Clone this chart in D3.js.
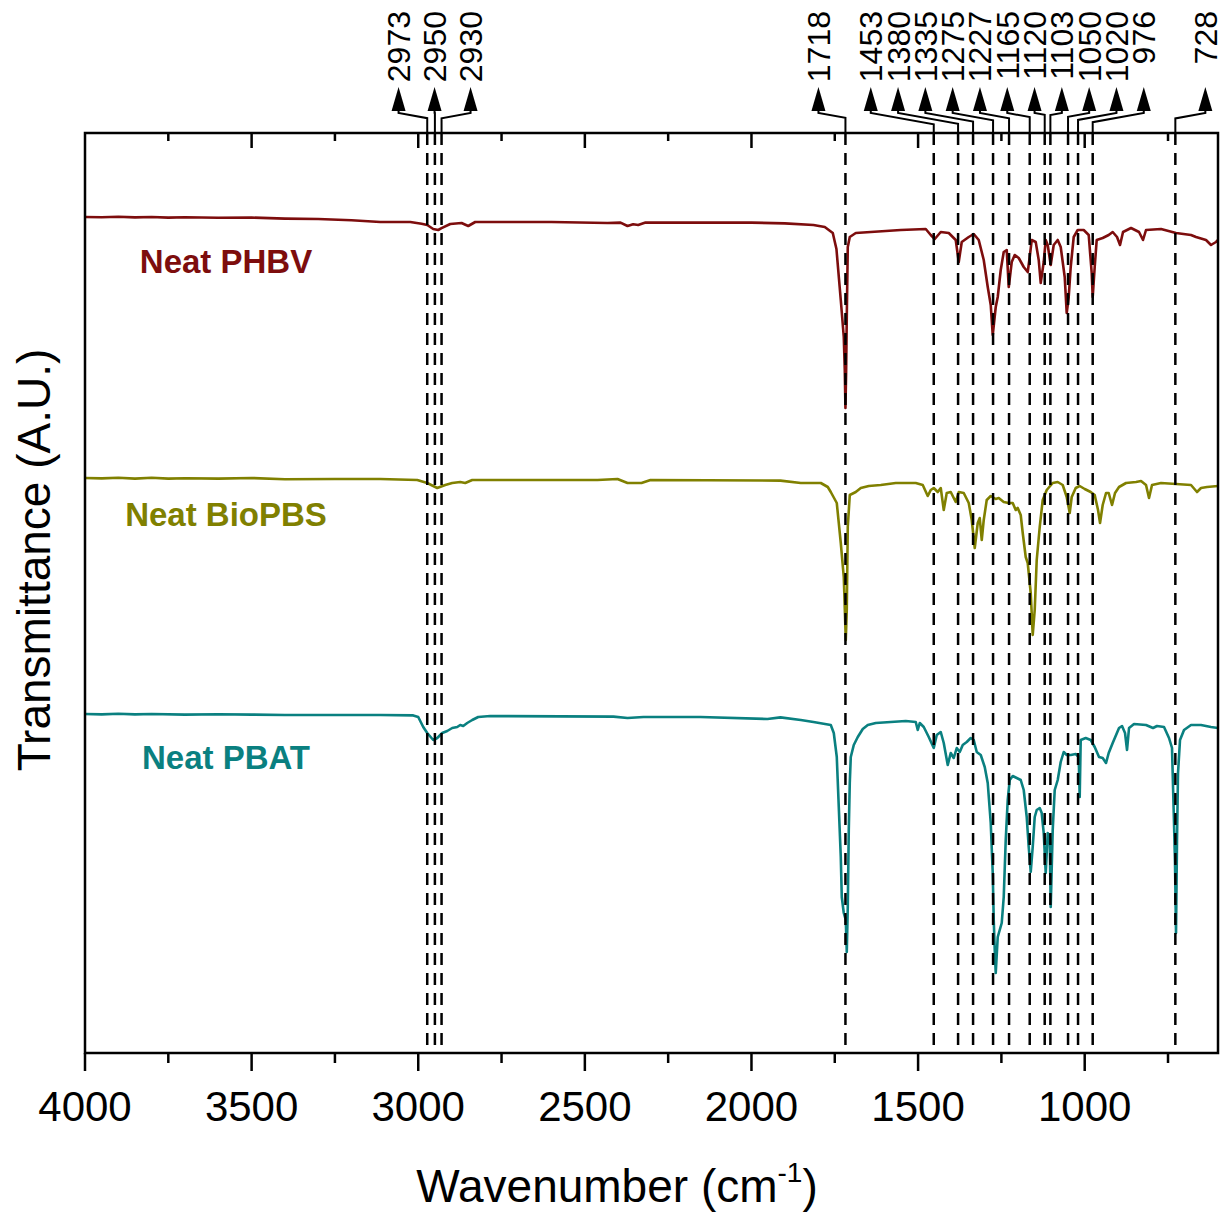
<!DOCTYPE html>
<html>
<head>
<meta charset="utf-8">
<script src="https://cdn.jsdelivr.net/npm/d3@7"></script>
<style>
  html, body { margin: 0; padding: 0; background: #fff; }
  svg { display: block; font-family: "Liberation Sans", Arial, sans-serif; }
</style>
</head>
<body>
<svg id="chart" width="1228" height="1214"></svg>
<script>
// FTIR spectra: [wavenumber (cm-1), transmittance (%)]
const phbv = [
  [4000,99.0],[3950,98.95],[3900,99.05],[3850,98.9],[3800,99.0],[3750,98.85],[3700,98.95],[3600,98.8],
  [3500,98.85],[3400,98.6],[3300,98.5],[3200,98.2],[3114,97.75],[3024,97.75],[2990,97.3],[2973,97.0],
  [2955,96.0],[2940,95.75],[2930,96.2],[2904,97.25],[2870,97.5],[2850,96.75],[2829,97.75],[2600,97.75],
  [2432,97.5],[2393,97.6],[2372,96.75],[2355,97.2],[2340,97.0],[2318,97.6],[2000,97.6],[1900,97.4],
  [1814,97.0],[1780,96.5],[1756,95.0],[1745,91.0],[1732,78.25],[1723,69.0],[1720,60.75],[1718,51.25],
  [1716,60.0],[1714,74.0],[1711,91.5],[1705,94.0],[1687,95.0],[1642,95.25],[1552,95.75],[1477,96.0],
  [1462,94.5],[1450,93.5],[1432,95.25],[1408,95.0],[1387,93.25],[1378,87.75],[1369,92.75],[1348,94.0],
  [1333,94.75],[1318,93.25],[1303,88.25],[1291,81.5],[1282,77.0],[1276,69.5],[1267,76.5],[1261,79.0],
  [1252,85.75],[1243,90.25],[1234,90.75],[1228,81.5],[1219,87.75],[1210,89.5],[1198,88.75],[1183,86.5],
  [1171,85.25],[1165,89.0],[1159,93.25],[1147,92.75],[1138,88.25],[1132,82.5],[1123,87.75],[1117,93.25],
  [1111,92.0],[1102,87.0],[1093,92.0],[1081,93.25],[1072,91.5],[1060,84.0],[1054,75.0],[1048,79.0],
  [1042,86.5],[1033,94.0],[1021,95.75],[1003,95.75],[988,94.5],[979,85.0],[976,79.0],[970,86.5],
  [964,93.25],[946,93.75],[928,94.5],[916,95.25],[903,94.0],[894,92.0],[885,95.25],[861,96.25],
  [837,95.25],[825,93.25],[816,95.75],[771,96.0],[726,95.0],[681,94.5],[666,94.0],[636,93.25],
  [621,92.0],[606,92.75],[600,93.25]
];

const bioPbs = [
  [4000,98.75],[3950,98.65],[3900,98.8],[3850,98.6],[3800,98.8],[3750,98.6],[3700,98.7],[3600,98.6],
  [3500,98.75],[3400,98.45],[3250,98.5],[3114,98.5],[3003,98.25],[2973,97.5],[2943,96.25],[2919,97.0],
  [2898,97.5],[2874,97.75],[2859,97.5],[2838,98.25],[2462,98.25],[2402,98.5],[2372,97.5],[2330,97.5],
  [2303,98.25],[1913,98.1],[1852,97.5],[1792,97.5],[1771,96.5],[1762,95.25],[1744,92.5],[1732,82.5],
  [1723,74.0],[1717,58.25],[1714,65.75],[1711,86.5],[1705,94.5],[1687,95.25],[1672,96.25],[1648,96.75],
  [1612,97.0],[1567,97.5],[1507,97.5],[1486,97.0],[1471,94.25],[1462,95.75],[1453,96.25],[1441,95.25],
  [1432,96.25],[1423,90.75],[1414,95.0],[1402,95.25],[1387,92.75],[1378,95.25],[1363,95.0],[1348,92.5],
  [1339,88.25],[1330,81.25],[1321,87.5],[1315,88.75],[1309,83.25],[1303,88.25],[1294,93.25],[1282,94.25],
  [1267,93.5],[1258,93.75],[1243,92.75],[1228,92.5],[1216,92.5],[1207,90.75],[1201,91.25],[1192,89.5],
  [1186,85.0],[1177,79.0],[1171,77.5],[1162,70.0],[1156,59.5],[1150,65.75],[1144,78.25],[1135,86.5],
  [1126,93.25],[1114,95.75],[1096,97.5],[1081,97.75],[1066,97.0],[1054,94.0],[1045,90.0],[1039,94.0],
  [1027,96.25],[1015,96.75],[1000,96.0],[982,95.25],[970,94.5],[960,90.75],[954,87.5],[946,92.0],
  [936,95.0],[928,95.0],[918,92.0],[909,95.0],[897,96.5],[876,97.5],[846,97.75],[831,98.0],
  [816,97.0],[807,93.75],[798,97.0],[771,97.5],[726,97.25],[681,97.0],[663,95.25],[651,96.25],
  [633,96.5],[600,96.75]
];

const pbat = [
  [4000,99.75],[3950,99.65],[3900,99.8],[3850,99.65],[3800,99.75],[3700,99.6],[3600,99.7],[3500,99.6],
  [3400,99.5],[3114,99.5],[3015,99.4],[3000,99.0],[2985,96.5],[2973,95.0],[2955,93.25],[2943,93.75],
  [2928,95.0],[2913,95.5],[2898,96.25],[2883,96.5],[2874,97.0],[2865,96.75],[2853,97.5],[2838,98.25],
  [2820,99.0],[2784,99.25],[2414,99.1],[2372,98.75],[2324,99.0],[2153,99.0],[1952,98.5],[1913,98.9],
  [1852,98.25],[1814,97.75],[1762,97.0],[1753,95.0],[1744,89.0],[1738,76.5],[1732,64.0],[1729,54.0],
  [1723,50.0],[1717,48.25],[1714,40.25],[1711,51.5],[1708,70.75],[1705,82.5],[1702,89.0],[1693,92.0],
  [1681,94.0],[1666,96.0],[1651,97.0],[1627,97.5],[1582,97.75],[1537,98.0],[1507,97.75],[1501,95.75],
  [1495,97.5],[1483,96.5],[1468,94.0],[1453,91.25],[1444,94.5],[1432,95.25],[1423,92.5],[1411,87.0],
  [1402,90.0],[1393,88.75],[1384,91.25],[1375,90.25],[1366,92.0],[1354,92.75],[1342,93.75],[1333,93.25],
  [1324,90.25],[1312,89.5],[1300,86.5],[1291,82.5],[1282,72.5],[1276,60.0],[1273,48.25],[1270,40.75],
  [1267,35.0],[1261,44.0],[1255,45.75],[1249,47.5],[1243,54.0],[1237,68.25],[1231,78.25],[1225,83.25],
  [1216,84.25],[1204,83.75],[1192,83.25],[1183,80.75],[1174,74.0],[1168,66.5],[1162,60.25],[1156,66.5],
  [1150,74.0],[1144,75.75],[1135,76.25],[1129,75.0],[1123,70.0],[1117,60.0],[1111,70.0],[1105,69.0],
  [1102,51.5],[1096,70.75],[1090,80.75],[1081,83.25],[1072,87.75],[1063,90.25],[1054,89.5],[1042,89.5],
  [1027,89.75],[1018,89.0],[1015,79.0],[1012,93.25],[997,93.75],[982,93.25],[970,91.5],[957,89.0],
  [946,88.75],[936,87.5],[928,90.0],[916,92.5],[897,96.25],[888,96.75],[879,95.0],[873,90.75],
  [867,96.25],[852,97.25],[816,97.0],[795,96.25],[783,96.75],[762,96.5],[747,93.75],[738,91.25],
  [732,72.5],[729,62.5],[726,45.0],[723,68.25],[720,85.0],[714,93.25],[702,95.75],[681,97.0],
  [651,97.0],[621,96.5],[600,96.25]
];

// Vertical stacking offsets applied to each trace
const seriesNames = ["Neat PHBV", "Neat BioPBS", "Neat PBAT"];
const seriesOffsets = [110, 45, -15];

// Marked band positions (cm-1)
const peakPositions = [2973, 2950, 2930, 1718, 1453, 1380, 1335, 1275, 1227, 1165, 1120, 1103, 1050, 1020, 976, 728];

// Axis ticks
const majorTicks = [4000, 3500, 3000, 2500, 2000, 1500, 1000];
const minorTicks = [3750, 3250, 2750, 2250, 1750, 1250, 750];

// ---- styling / layout ----
const seriesData = [phbv, bioPbs, pbat];
const seriesColors = ["#7d0d0d", "#808000", "#0a8080"];
const labelDrop = [56, 48, 55];   // px below the start of each trace
const labelCenterX = 226;

const plot = { left: 85, right: 1218, top: 133, bottom: 1053 };

const svg = d3.select("#chart");

const x = d3.scaleLinear().domain([4000, 600]).range([plot.left, plot.right]);
const y = d3.scaleLinear().domain([0, 230]).range([plot.bottom, plot.top]);

svg.append("defs").append("clipPath").attr("id", "plotClip")
  .append("rect")
  .attr("x", plot.left).attr("y", plot.top)
  .attr("width", plot.right - plot.left).attr("height", plot.bottom - plot.top);

// Spectra
const line = d3.line().x(d => x(d[0])).y(d => y(d[1]));
const traces = svg.append("g").attr("clip-path", "url(#plotClip)");
seriesData.forEach((s, i) => {
  traces.append("path")
    .datum(s.map(d => [d[0], d[1] + seriesOffsets[i]]))
    .attr("fill", "none")
    .attr("stroke", seriesColors[i])
    .attr("stroke-width", 2.6)
    .attr("stroke-linejoin", "round")
    .attr("d", line);
});

// Dashed guide lines at the marked bands
svg.append("g").selectAll("line").data(peakPositions).join("line")
  .attr("x1", d => x(d)).attr("x2", d => x(d))
  .attr("y1", plot.top).attr("y2", plot.bottom)
  .attr("stroke", "#000").attr("stroke-width", 2.5)
  .attr("stroke-dasharray", "12,8");

// Series labels
seriesNames.forEach((name, i) => {
  const s = seriesData[i];
  svg.append("text")
    .attr("x", labelCenterX)
    .attr("y", y(s[0][1] + seriesOffsets[i]) + labelDrop[i])
    .attr("text-anchor", "middle")
    .attr("font-weight", "bold")
    .attr("font-size", 33)
    .attr("fill", seriesColors[i])
    .text(name);
});

// Callouts: labels spread into slots above the frame, joined by leaders
const calloutGroups = [
  { members: [2973, 2950, 2930], gap: 36, shift: 0 },
  { members: [1718], gap: 0, shift: -27 },
  { members: [1453, 1380, 1335, 1275, 1227, 1165, 1120, 1103, 1050, 1020, 976], gap: 27.3, shift: -13.7 },
  { members: [728], gap: 0, shift: 30 }
];
const callouts = [];
calloutGroups.forEach(g => {
  const mean = d3.mean(g.members, d => x(d));
  const n = g.members.length;
  g.members.forEach((w, i) => {
    callouts.push({ w, px: x(w), slot: mean + g.shift + (i - (n - 1) / 2) * g.gap });
  });
});

const arrowTip = 87, arrowBase = 111, arrowHalf = 7, elbowTop = 113;
const cg = svg.append("g");
callouts.forEach(c => {
  const elbowLow = elbowTop + Math.min(12, Math.abs(c.px - c.slot) * 0.18);
  cg.append("path")
    .attr("d", `M${c.slot},${arrowBase} L${c.slot},${elbowTop} L${c.px},${elbowLow} L${c.px},${plot.top}`)
    .attr("fill", "none").attr("stroke", "#000").attr("stroke-width", 2);
  cg.append("path")
    .attr("d", `M${c.slot},${arrowTip} L${c.slot + arrowHalf},${arrowBase} L${c.slot - arrowHalf},${arrowBase} Z`)
    .attr("fill", "#000");
  cg.append("text")
    .attr("transform", `translate(${c.slot + 11.5},11) rotate(-90)`)
    .attr("text-anchor", "end")
    .attr("font-size", 32)
    .attr("fill", "#000")
    .text(c.w);
});

// Bottom axis (ticks outward) and top axis (ticks inward)
const axisG = svg.append("g");
axisG.selectAll(".majB").data(majorTicks).join("line")
  .attr("x1", d => x(d)).attr("x2", d => x(d))
  .attr("y1", plot.bottom).attr("y2", plot.bottom + 18)
  .attr("stroke", "#000").attr("stroke-width", 2.5);
axisG.selectAll(".minB").data(minorTicks).join("line")
  .attr("x1", d => x(d)).attr("x2", d => x(d))
  .attr("y1", plot.bottom).attr("y2", plot.bottom + 10)
  .attr("stroke", "#000").attr("stroke-width", 2.5);
axisG.selectAll(".majT").data(majorTicks.filter(d => d !== 4000)).join("line")
  .attr("x1", d => x(d)).attr("x2", d => x(d))
  .attr("y1", plot.top).attr("y2", plot.top + 15)
  .attr("stroke", "#000").attr("stroke-width", 2.5);
axisG.selectAll(".minT").data(minorTicks).join("line")
  .attr("x1", d => x(d)).attr("x2", d => x(d))
  .attr("y1", plot.top).attr("y2", plot.top + 8)
  .attr("stroke", "#000").attr("stroke-width", 2.5);
axisG.selectAll(".lab").data(majorTicks).join("text")
  .attr("x", d => x(d)).attr("y", 1121)
  .attr("text-anchor", "middle").attr("font-size", 42).attr("fill", "#000")
  .text(d => d);

// Frame
svg.append("rect")
  .attr("x", plot.left).attr("y", plot.top)
  .attr("width", plot.right - plot.left).attr("height", plot.bottom - plot.top)
  .attr("fill", "none").attr("stroke", "#000").attr("stroke-width", 2.5);

// Axis titles
const xt = svg.append("text")
  .attr("x", 617).attr("y", 1202)
  .attr("text-anchor", "middle").attr("font-size", 46).attr("fill", "#000");
xt.append("tspan").text("Wavenumber (cm");
xt.append("tspan").attr("font-size", 28).attr("dy", -20).text("-1");
xt.append("tspan").attr("dy", 20).text(")");

svg.append("text")
  .attr("transform", "translate(50,560) rotate(-90)")
  .attr("text-anchor", "middle").attr("font-size", 46).attr("fill", "#000")
  .text("Transmittance (A.U.)");
</script>
</body>
</html>
